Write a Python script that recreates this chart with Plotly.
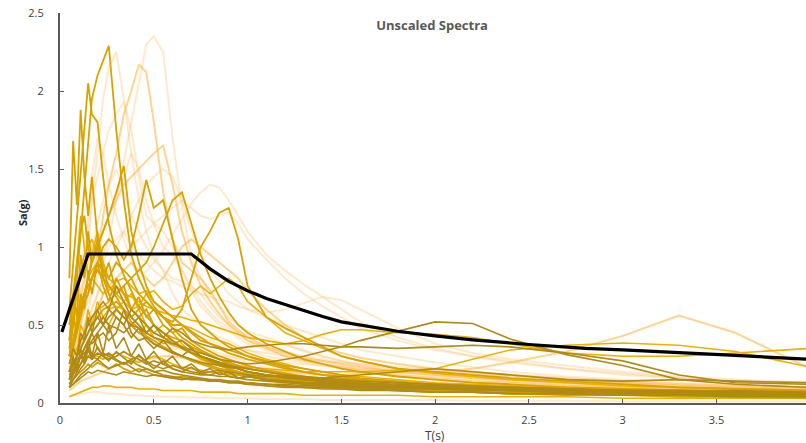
import plotly.graph_objects as go

# Common period grid (s)
T = [0.05, 0.07, 0.09, 0.11, 0.13, 0.15, 0.17, 0.2, 0.23, 0.26, 0.3,
     0.34, 0.38, 0.42, 0.46, 0.5, 0.55, 0.6, 0.65, 0.7, 0.75,
     0.8, 0.85, 0.9, 0.95, 1.0, 1.1, 1.2, 1.3, 1.4, 1.5,
     1.6, 1.8, 2.0, 2.2, 2.4, 2.7, 3.0, 3.3, 3.6, 4.0]

# Target spectrum
TARGET_T = [0.01, 0.15, 0.7, 0.8, 0.9, 1.0, 1.1, 1.2, 1.3, 1.4, 1.5, 1.6, 1.8,
            2.0, 2.2, 2.5, 2.8, 3.0, 3.3, 3.6, 4.0]
TARGET_SA = [0.455, 0.955, 0.955, 0.86, 0.78, 0.72, 0.67, 0.63, 0.59, 0.555, 0.52,
             0.5, 0.46, 0.43, 0.405, 0.375, 0.35, 0.34, 0.325, 0.305, 0.28]

# Very pale records
LIGHT = [
    [0.25, 0.3, 0.35, 0.45, 0.5, 0.6, 0.7, 0.85, 0.95, 1.05, 1.3,
     1.55, 1.8, 2.05, 2.3, 2.35, 2.25, 1.7, 1.25, 0.95, 0.8,
     0.7, 0.62, 0.55, 0.5, 0.46, 0.42, 0.38, 0.33, 0.3, 0.27,
     0.24, 0.2, 0.18, 0.16, 0.14, 0.12, 0.1, 0.09, 0.08, 0.07],
    [0.2, 0.3, 0.45, 0.6, 0.8, 1.0, 1.3, 1.6, 1.95, 2.15, 2.25,
     1.95, 1.6, 1.3, 1.1, 0.95, 0.85, 0.7, 0.6, 0.55, 0.5,
     0.46, 0.42, 0.4, 0.37, 0.34, 0.3, 0.28, 0.26, 0.24, 0.22,
     0.2, 0.17, 0.15, 0.13, 0.12, 0.11, 0.1, 0.09, 0.08, 0.07],
    [0.2, 0.3, 0.5, 0.7, 0.9, 1.1, 1.3, 1.45, 1.6, 1.75, 1.85,
     1.93, 1.75, 1.45, 1.2, 1.15, 1.1, 1.0, 0.85, 0.72, 0.62,
     0.56, 0.5, 0.46, 0.42, 0.38, 0.34, 0.31, 0.28, 0.26, 0.24,
     0.22, 0.19, 0.17, 0.15, 0.14, 0.12, 0.11, 0.1, 0.09, 0.08],
    [0.15, 0.2, 0.25, 0.3, 0.35, 0.4, 0.45, 0.5, 0.55, 0.6, 0.65,
     0.7, 0.75, 0.8, 0.85, 0.9, 0.98, 1.08, 1.18, 1.28, 1.35,
     1.4, 1.38, 1.3, 1.2, 1.1, 0.95, 0.85, 0.76, 0.68, 0.6,
     0.52, 0.42, 0.35, 0.3, 0.27, 0.22, 0.19, 0.16, 0.14, 0.12],
    [0.2, 0.25, 0.3, 0.4, 0.5, 0.55, 0.6, 0.7, 0.8, 0.85, 0.9,
     0.95, 1.0, 1.05, 1.1, 1.15, 1.2, 1.25, 1.3, 1.25, 1.2,
     1.18, 1.2, 1.22, 1.15, 1.05, 0.92, 0.8, 0.7, 0.62, 0.55,
     0.48, 0.4, 0.34, 0.3, 0.26, 0.22, 0.18, 0.16, 0.14, 0.12],
    [0.3, 0.35, 0.45, 0.5, 0.6, 0.65, 0.7, 0.8, 0.9, 1.0, 1.05,
     1.1, 1.0, 0.95, 0.9, 0.85, 0.8, 0.78, 0.75, 0.72, 0.7,
     0.68, 0.66, 0.65, 0.62, 0.6, 0.58, 0.6, 0.64, 0.68, 0.66,
     0.6, 0.48, 0.38, 0.32, 0.28, 0.24, 0.2, 0.17, 0.15, 0.13],
    [0.3, 0.4, 0.5, 0.65, 0.8, 0.9, 1.0, 1.15, 1.3, 1.4, 1.5,
     1.35, 1.2, 1.1, 1.0, 0.92, 0.85, 0.8, 0.78, 0.75, 0.7,
     0.62, 0.55, 0.5, 0.46, 0.43, 0.4, 0.37, 0.34, 0.3, 0.27,
     0.25, 0.22, 0.2, 0.19, 0.18, 0.16, 0.14, 0.12, 0.11, 0.1],
    [0.15, 0.2, 0.3, 0.35, 0.45, 0.5, 0.55, 0.6, 0.7, 0.75, 0.7,
     0.65, 0.6, 0.55, 0.6, 0.65, 0.6, 0.55, 0.5, 0.45, 0.42,
     0.4, 0.38, 0.36, 0.35, 0.34, 0.32, 0.3, 0.28, 0.27, 0.26,
     0.25, 0.23, 0.22, 0.2, 0.18, 0.16, 0.14, 0.12, 0.11, 0.1],
    [0.3, 0.45, 0.6, 0.8, 1.0, 1.2, 1.45, 1.7, 1.6, 1.4, 1.2,
     1.05, 0.9, 0.8, 0.72, 0.65, 0.58, 0.5, 0.45, 0.4, 0.37,
     0.34, 0.32, 0.3, 0.28, 0.26, 0.23, 0.2, 0.18, 0.16, 0.15,
     0.14, 0.12, 0.11, 0.1, 0.09, 0.08, 0.07, 0.06, 0.06, 0.05],
    [0.05, 0.05, 0.055, 0.06, 0.06, 0.065, 0.07, 0.07, 0.065, 0.06, 0.06,
     0.055, 0.05, 0.05, 0.045, 0.045, 0.04, 0.04, 0.04, 0.035, 0.035,
     0.035, 0.03, 0.03, 0.03, 0.03, 0.025, 0.025, 0.025, 0.02, 0.02,
     0.02, 0.02, 0.02, 0.015, 0.015, 0.015, 0.01, 0.01, 0.01, 0.01],
    [0.25, 0.3, 0.35, 0.4, 0.45, 0.5, 0.6, 0.7, 0.8, 0.9, 1.0,
     1.1, 1.2, 1.3, 1.4, 1.45, 1.5, 1.45, 1.3, 1.1, 0.95,
     0.85, 0.78, 0.7, 0.65, 0.6, 0.55, 0.5, 0.46, 0.42, 0.38,
     0.34, 0.3, 0.26, 0.23, 0.2, 0.17, 0.15, 0.13, 0.11, 0.1],
    [0.4, 0.5, 0.6, 0.7, 0.8, 0.9, 1.0, 1.05, 1.1, 1.2, 1.35,
     1.45, 1.6, 1.5, 1.3, 1.15, 1.0, 0.95, 0.85, 0.75, 0.65,
     0.58, 0.52, 0.48, 0.44, 0.4, 0.36, 0.33, 0.3, 0.28, 0.26,
     0.24, 0.22, 0.2, 0.18, 0.17, 0.15, 0.13, 0.12, 0.1, 0.09],
    [0.1, 0.15, 0.2, 0.25, 0.3, 0.35, 0.38, 0.4, 0.42, 0.45, 0.5,
     0.48, 0.45, 0.42, 0.4, 0.38, 0.36, 0.35, 0.34, 0.33, 0.32,
     0.31, 0.3, 0.3, 0.29, 0.28, 0.27, 0.26, 0.25, 0.24, 0.23,
     0.22, 0.21, 0.2, 0.19, 0.17, 0.15, 0.13, 0.12, 0.11, 0.1],
]

# Pale orange records
MID = [
    [0.2, 0.3, 0.4, 0.5, 0.6, 0.7, 0.8, 0.95, 1.2, 1.4, 1.6,
     1.85, 2.0, 2.17, 2.12, 1.8, 1.35, 1.05, 0.9, 0.85, 0.8,
     0.72, 0.62, 0.52, 0.47, 0.42, 0.36, 0.32, 0.29, 0.27, 0.25,
     0.23, 0.2, 0.18, 0.16, 0.15, 0.13, 0.12, 0.1, 0.09, 0.08],
    [0.3, 0.4, 0.5, 0.6, 0.7, 0.8, 0.9, 1.0, 1.1, 1.2, 1.3,
     1.4, 1.45, 1.5, 1.55, 1.6, 1.65, 1.4, 1.1, 0.9, 0.75,
     0.65, 0.57, 0.5, 0.45, 0.4, 0.35, 0.3, 0.27, 0.25, 0.23,
     0.21, 0.18, 0.16, 0.14, 0.13, 0.11, 0.1, 0.09, 0.08, 0.07],
    [0.2, 0.25, 0.3, 0.35, 0.45, 0.5, 0.55, 0.6, 0.7, 0.75, 0.8,
     0.85, 0.9, 0.85, 0.8, 0.75, 0.8, 0.9, 1.0, 1.05, 1.0,
     0.95, 0.9, 0.85, 0.8, 0.72, 0.6, 0.5, 0.42, 0.36, 0.32,
     0.29, 0.25, 0.22, 0.2, 0.18, 0.15, 0.13, 0.11, 0.1, 0.09],
    [0.08, 0.1, 0.12, 0.14, 0.15, 0.16, 0.17, 0.18, 0.2, 0.22, 0.24,
     0.25, 0.26, 0.27, 0.28, 0.29, 0.3, 0.3, 0.29, 0.28, 0.27,
     0.26, 0.25, 0.24, 0.23, 0.22, 0.21, 0.2, 0.19, 0.18, 0.18,
     0.19, 0.2, 0.2, 0.22, 0.26, 0.33, 0.43, 0.56, 0.45, 0.22],
]

# Bright gold records
BRIGHT = [
    [0.15, 0.2, 0.25, 0.3, 0.35, 0.4, 0.45, 0.5, 0.55, 0.6, 0.62,
     0.6, 0.55, 0.5, 0.45, 0.42, 0.4, 0.37, 0.35, 0.33, 0.3,
     0.28, 0.26, 0.25, 0.24, 0.23, 0.22, 0.21, 0.2, 0.2, 0.2,
     0.2, 0.21, 0.22, 0.28, 0.34, 0.37, 0.385, 0.37, 0.33, 0.23],
    [0.3, 0.4, 0.5, 0.6, 0.7, 0.8, 0.85, 0.9, 0.85, 0.8, 0.75,
     0.7, 0.68, 0.65, 0.62, 0.6, 0.58, 0.56, 0.55, 0.53, 0.52,
     0.5, 0.48, 0.46, 0.44, 0.42, 0.4, 0.38, 0.4, 0.44, 0.47,
     0.47, 0.45, 0.44, 0.42, 0.38, 0.32, 0.3, 0.3, 0.32, 0.35],
    [0.35, 0.5, 0.7, 0.85, 0.95, 1.0, 1.05, 0.95, 0.9, 0.8, 0.75,
     0.7, 0.6, 0.55, 0.5, 0.45, 0.42, 0.4, 0.35, 0.32, 0.3,
     0.28, 0.26, 0.24, 0.22, 0.2, 0.18, 0.16, 0.14, 0.13, 0.12,
     0.11, 0.1, 0.09, 0.08, 0.07, 0.06, 0.05, 0.05, 0.04, 0.04],
    [0.3, 0.4, 0.55, 0.65, 0.7, 0.75, 0.8, 0.75, 0.7, 0.72, 0.78,
     0.8, 0.75, 0.7, 0.72, 0.65, 0.6, 0.55, 0.5, 0.48, 0.45,
     0.42, 0.4, 0.38, 0.35, 0.32, 0.28, 0.25, 0.22, 0.2, 0.18,
     0.17, 0.15, 0.13, 0.12, 0.11, 0.1, 0.09, 0.08, 0.07, 0.06],
    [0.04, 0.05, 0.06, 0.07, 0.08, 0.09, 0.1, 0.1, 0.11, 0.11, 0.1,
     0.1, 0.1, 0.09, 0.09, 0.09, 0.08, 0.08, 0.08, 0.08, 0.07,
     0.07, 0.07, 0.07, 0.06, 0.06, 0.06, 0.06, 0.05, 0.05, 0.05,
     0.05, 0.05, 0.04, 0.04, 0.04, 0.04, 0.03, 0.03, 0.03, 0.03],
    [0.4, 0.6, 0.9, 1.2, 1.0, 0.8, 0.95, 1.1, 0.9, 0.7, 0.6,
     0.65, 0.7, 0.6, 0.5, 0.45, 0.5, 0.45, 0.38, 0.32, 0.28,
     0.26, 0.24, 0.22, 0.2, 0.19, 0.17, 0.15, 0.14, 0.13, 0.12,
     0.11, 0.1, 0.09, 0.08, 0.07, 0.06, 0.05, 0.05, 0.04, 0.04],
    [0.15, 0.2, 0.22, 0.25, 0.28, 0.3, 0.32, 0.3, 0.28, 0.3, 0.32,
     0.3, 0.28, 0.26, 0.28, 0.3, 0.28, 0.25, 0.23, 0.22, 0.21,
     0.2, 0.19, 0.18, 0.18, 0.17, 0.16, 0.15, 0.14, 0.13, 0.13,
     0.12, 0.11, 0.1, 0.09, 0.08, 0.07, 0.06, 0.06, 0.05, 0.05],
    [0.2, 0.3, 0.35, 0.4, 0.45, 0.5, 0.55, 0.6, 0.62, 0.65, 0.7,
     0.65, 0.6, 0.62, 0.7, 0.72, 0.65, 0.6, 0.62, 0.7, 0.75,
     0.7, 0.75, 0.8, 0.75, 0.65, 0.55, 0.45, 0.4, 0.35, 0.3,
     0.27, 0.22, 0.19, 0.17, 0.15, 0.13, 0.11, 0.1, 0.09, 0.08],
    [0.2, 0.35, 0.3, 0.5, 0.45, 0.6, 0.5, 0.65, 0.55, 0.5, 0.6,
     0.55, 0.5, 0.45, 0.5, 0.42, 0.38, 0.4, 0.35, 0.32, 0.3,
     0.28, 0.26, 0.25, 0.23, 0.22, 0.2, 0.18, 0.17, 0.16, 0.15,
     0.14, 0.13, 0.12, 0.11, 0.1, 0.09, 0.08, 0.07, 0.07, 0.06],
]

# Deep gold records
GOLD = [
    [0.3, 0.5, 0.8, 1.1, 1.4, 1.7, 1.95, 2.1, 2.2, 2.29, 1.75,
     1.3, 0.95, 0.8, 0.7, 0.62, 0.55, 0.48, 0.42, 0.38, 0.34,
     0.31, 0.28, 0.25, 0.22, 0.2, 0.18, 0.16, 0.15, 0.14, 0.13,
     0.12, 0.1, 0.09, 0.08, 0.07, 0.06, 0.05, 0.05, 0.04, 0.04],
    [0.6, 0.9, 1.2, 1.5, 1.8, 2.05, 1.85, 1.8, 1.45, 1.15, 0.95,
     0.82, 0.72, 0.62, 0.56, 0.5, 0.45, 0.4, 0.36, 0.32, 0.29,
     0.26, 0.24, 0.22, 0.2, 0.18, 0.16, 0.15, 0.13, 0.12, 0.11,
     0.1, 0.09, 0.08, 0.07, 0.06, 0.06, 0.05, 0.05, 0.04, 0.04],
    [0.8, 1.68, 1.27, 1.88, 1.45, 1.2, 1.45, 1.05, 0.85, 0.75, 0.68,
     0.6, 0.52, 0.48, 0.43, 0.4, 0.36, 0.33, 0.3, 0.27, 0.25,
     0.23, 0.21, 0.19, 0.18, 0.17, 0.15, 0.14, 0.12, 0.11, 0.1,
     0.09, 0.08, 0.07, 0.07, 0.06, 0.05, 0.05, 0.04, 0.04, 0.03],
    [0.3, 0.4, 0.5, 0.6, 0.65, 0.7, 0.8, 0.9, 1.0, 1.05, 1.0,
     0.92, 1.0, 1.2, 1.43, 1.25, 1.3, 1.05, 0.8, 0.6, 0.5,
     0.45, 0.4, 0.36, 0.33, 0.3, 0.27, 0.24, 0.22, 0.2, 0.18,
     0.16, 0.14, 0.12, 0.11, 0.1, 0.09, 0.08, 0.07, 0.06, 0.05],
    [0.2, 0.25, 0.3, 0.35, 0.4, 0.45, 0.5, 0.55, 0.6, 0.62, 0.65,
     0.6, 0.55, 0.6, 0.65, 0.6, 0.55, 0.52, 0.6, 0.8, 1.0,
     1.1, 1.22, 1.25, 1.05, 0.75, 0.55, 0.48, 0.42, 0.36, 0.3,
     0.27, 0.22, 0.2, 0.18, 0.16, 0.14, 0.12, 0.1, 0.09, 0.08],
    [0.3, 0.4, 0.5, 0.6, 0.7, 0.75, 0.8, 0.85, 0.8, 0.75, 0.7,
     0.75, 0.8, 0.85, 0.9, 1.0, 1.15, 1.3, 1.35, 1.15, 0.95,
     0.8, 0.68, 0.58, 0.5, 0.45, 0.38, 0.33, 0.28, 0.25, 0.22,
     0.2, 0.17, 0.15, 0.13, 0.12, 0.1, 0.09, 0.08, 0.07, 0.06],
    [0.25, 0.35, 0.45, 0.55, 0.65, 0.7, 0.8, 0.9, 0.85, 0.8, 0.9,
     0.85, 0.8, 0.7, 0.65, 0.6, 0.55, 0.5, 0.5, 0.45, 0.4,
     0.38, 0.36, 0.34, 0.32, 0.3, 0.26, 0.23, 0.2, 0.18, 0.16,
     0.15, 0.13, 0.12, 0.11, 0.1, 0.09, 0.08, 0.07, 0.06, 0.06],
    [0.12, 0.15, 0.18, 0.2, 0.22, 0.25, 0.23, 0.26, 0.24, 0.22, 0.25,
     0.22, 0.2, 0.22, 0.2, 0.18, 0.17, 0.16, 0.17, 0.16, 0.15,
     0.15, 0.14, 0.14, 0.13, 0.12, 0.12, 0.11, 0.1, 0.1, 0.1,
     0.09, 0.09, 0.08, 0.08, 0.07, 0.07, 0.06, 0.06, 0.06, 0.05],
    [0.3, 0.4, 0.5, 0.6, 0.7, 0.8, 0.9, 1.0, 1.1, 1.2, 1.35,
     1.52, 1.1, 0.9, 0.75, 0.65, 0.6, 0.55, 0.5, 0.46, 0.42,
     0.38, 0.35, 0.32, 0.3, 0.28, 0.25, 0.22, 0.2, 0.18, 0.17,
     0.15, 0.13, 0.12, 0.11, 0.1, 0.09, 0.08, 0.07, 0.06, 0.05],
    [0.5, 0.7, 0.9, 1.1, 1.2, 1.0, 0.9, 1.05, 0.8, 0.7, 0.6,
     0.55, 0.5, 0.45, 0.42, 0.38, 0.35, 0.32, 0.3, 0.28, 0.26,
     0.24, 0.22, 0.21, 0.2, 0.18, 0.16, 0.15, 0.14, 0.13, 0.12,
     0.11, 0.1, 0.09, 0.08, 0.07, 0.06, 0.06, 0.05, 0.05, 0.04],
    [0.35, 0.55, 0.45, 0.7, 0.6, 0.85, 0.7, 0.9, 0.75, 0.65, 0.8,
     0.7, 0.6, 0.68, 0.55, 0.6, 0.5, 0.45, 0.48, 0.4, 0.36,
     0.33, 0.3, 0.28, 0.26, 0.24, 0.21, 0.19, 0.17, 0.15, 0.14,
     0.13, 0.11, 0.1, 0.09, 0.08, 0.07, 0.06, 0.06, 0.05, 0.05],
    [0.4, 0.7, 0.55, 0.95, 0.8, 1.1, 0.9, 1.0, 0.8, 0.9, 0.7,
     0.75, 0.6, 0.55, 0.6, 0.5, 0.45, 0.42, 0.4, 0.36, 0.33,
     0.3, 0.28, 0.26, 0.24, 0.22, 0.2, 0.18, 0.16, 0.15, 0.14,
     0.13, 0.11, 0.1, 0.09, 0.08, 0.07, 0.06, 0.06, 0.05, 0.05],
]

# Olive / dark gold records
DARK = [
    [0.1, 0.15, 0.2, 0.25, 0.3, 0.35, 0.4, 0.45, 0.5, 0.55, 0.6,
     0.55, 0.5, 0.48, 0.45, 0.42, 0.4, 0.38, 0.36, 0.34, 0.32,
     0.3, 0.28, 0.27, 0.26, 0.25, 0.26, 0.28, 0.3, 0.33, 0.36,
     0.4, 0.46, 0.52, 0.51, 0.41, 0.31, 0.24, 0.15, 0.12, 0.1],
    [0.15, 0.2, 0.25, 0.3, 0.35, 0.4, 0.38, 0.42, 0.45, 0.4, 0.45,
     0.6, 0.45, 0.4, 0.42, 0.38, 0.35, 0.32, 0.3, 0.28, 0.26,
     0.25, 0.24, 0.23, 0.22, 0.2, 0.18, 0.17, 0.16, 0.15, 0.14,
     0.13, 0.12, 0.11, 0.1, 0.1, 0.09, 0.08, 0.08, 0.07, 0.07],
    [0.12, 0.18, 0.22, 0.25, 0.3, 0.38, 0.45, 0.35, 0.3, 0.32, 0.28,
     0.25, 0.27, 0.24, 0.22, 0.2, 0.21, 0.19, 0.18, 0.17, 0.16,
     0.15, 0.15, 0.14, 0.14, 0.13, 0.12, 0.11, 0.1, 0.1, 0.09,
     0.09, 0.08, 0.07, 0.07, 0.06, 0.06, 0.05, 0.05, 0.04, 0.04],
    [0.2, 0.25, 0.3, 0.35, 0.4, 0.45, 0.5, 0.55, 0.5, 0.6, 0.55,
     0.5, 0.6, 0.55, 0.45, 0.5, 0.42, 0.38, 0.4, 0.35, 0.3,
     0.28, 0.26, 0.24, 0.23, 0.22, 0.2, 0.18, 0.17, 0.16, 0.15,
     0.14, 0.13, 0.12, 0.11, 0.1, 0.09, 0.08, 0.07, 0.07, 0.06],
    [0.1, 0.12, 0.15, 0.18, 0.2, 0.22, 0.25, 0.28, 0.25, 0.22, 0.24,
     0.26, 0.23, 0.2, 0.22, 0.2, 0.18, 0.17, 0.16, 0.15, 0.15,
     0.14, 0.14, 0.13, 0.13, 0.12, 0.11, 0.1, 0.1, 0.09, 0.09,
     0.08, 0.08, 0.07, 0.07, 0.06, 0.06, 0.05, 0.05, 0.05, 0.04],
    [0.18, 0.22, 0.28, 0.3, 0.32, 0.35, 0.3, 0.28, 0.32, 0.3, 0.27,
     0.25, 0.28, 0.3, 0.27, 0.24, 0.22, 0.24, 0.22, 0.2, 0.19,
     0.2, 0.21, 0.2, 0.19, 0.18, 0.17, 0.17, 0.16, 0.16, 0.17,
     0.18, 0.2, 0.22, 0.2, 0.18, 0.15, 0.14, 0.15, 0.14, 0.13],
    [0.15, 0.2, 0.25, 0.3, 0.35, 0.4, 0.45, 0.5, 0.55, 0.5, 0.48,
     0.45, 0.5, 0.55, 0.5, 0.45, 0.42, 0.48, 0.45, 0.4, 0.38,
     0.36, 0.35, 0.34, 0.35, 0.36, 0.37, 0.38, 0.38, 0.37, 0.36,
     0.36, 0.35, 0.36, 0.37, 0.36, 0.32, 0.27, 0.18, 0.13, 0.12],
    [0.1, 0.15, 0.18, 0.22, 0.25, 0.3, 0.28, 0.32, 0.3, 0.28, 0.3,
     0.33, 0.3, 0.28, 0.25, 0.27, 0.25, 0.22, 0.2, 0.19, 0.18,
     0.18, 0.17, 0.17, 0.16, 0.15, 0.14, 0.13, 0.12, 0.12, 0.11,
     0.1, 0.1, 0.09, 0.09, 0.08, 0.08, 0.07, 0.07, 0.06, 0.06],
    [0.1, 0.12, 0.14, 0.16, 0.18, 0.2, 0.19, 0.21, 0.2, 0.19, 0.18,
     0.2, 0.19, 0.18, 0.17, 0.18, 0.17, 0.16, 0.15, 0.16, 0.15,
     0.14, 0.14, 0.13, 0.13, 0.13, 0.12, 0.12, 0.11, 0.11, 0.1,
     0.1, 0.1, 0.1, 0.09, 0.09, 0.09, 0.08, 0.08, 0.08, 0.07],
    [0.2, 0.25, 0.3, 0.4, 0.45, 0.5, 0.55, 0.6, 0.65, 0.6, 0.75,
     0.65, 0.55, 0.5, 0.45, 0.5, 0.45, 0.4, 0.35, 0.32, 0.3,
     0.28, 0.26, 0.24, 0.22, 0.2, 0.18, 0.16, 0.15, 0.14, 0.13,
     0.12, 0.11, 0.1, 0.09, 0.08, 0.07, 0.06, 0.06, 0.05, 0.05],
    [0.15, 0.3, 0.2, 0.35, 0.25, 0.4, 0.3, 0.45, 0.32, 0.5, 0.35,
     0.42, 0.3, 0.38, 0.28, 0.33, 0.25, 0.3, 0.22, 0.25, 0.2,
     0.22, 0.18, 0.2, 0.16, 0.17, 0.15, 0.14, 0.13, 0.12, 0.11,
     0.1, 0.09, 0.09, 0.08, 0.08, 0.07, 0.07, 0.06, 0.06, 0.05],
    [0.2, 0.28, 0.22, 0.3, 0.26, 0.34, 0.28, 0.36, 0.3, 0.27, 0.33,
     0.29, 0.25, 0.31, 0.26, 0.22, 0.27, 0.22, 0.2, 0.23, 0.19,
     0.18, 0.2, 0.17, 0.16, 0.17, 0.15, 0.14, 0.13, 0.13, 0.12,
     0.11, 0.1, 0.1, 0.09, 0.09, 0.08, 0.08, 0.07, 0.07, 0.06],
    [0.25, 0.35, 0.3, 0.45, 0.4, 0.55, 0.45, 0.6, 0.5, 0.45, 0.55,
     0.5, 0.42, 0.48, 0.4, 0.35, 0.4, 0.33, 0.3, 0.35, 0.3,
     0.27, 0.25, 0.23, 0.22, 0.2, 0.18, 0.17, 0.15, 0.14, 0.13,
     0.12, 0.11, 0.1, 0.09, 0.08, 0.08, 0.07, 0.06, 0.06, 0.05],
]

GROUP_STYLE = [
    (LIGHT, "rgba(255,196,120,0.38)", 2.0),
    (MID, "rgba(255,183,70,0.6)", 2.0),
    (BRIGHT, "#EDB000", 1.6),
    (GOLD, "#D6A300", 1.8),
    (DARK, "#B08A14", 1.6),
]

fig = go.Figure()
for series_list, color, width in GROUP_STYLE:
    for ys in series_list:
        fig.add_trace(go.Scatter(x=T, y=ys, mode="lines",
                                 line=dict(color=color, width=width),
                                 hoverinfo="skip", showlegend=False))

fig.add_trace(go.Scatter(x=TARGET_T, y=TARGET_SA, mode="lines",
                         line=dict(color="#000000", width=3.2),
                         hoverinfo="skip", showlegend=False))

axis_color = "#595959"
fig.update_layout(
    width=806, height=443,
    margin=dict(l=60, r=0, t=13, b=40),
    paper_bgcolor="white", plot_bgcolor="white",
    font=dict(family="Open Sans, sans-serif", size=11, color="#404040"),
    title=dict(text="<b>Unscaled Spectra</b>", x=0.536, xanchor="center",
               y=1 - 25 / 443, yanchor="middle", yref="container",
               font=dict(size=13, color="#595959", family="Open Sans, sans-serif")),
    xaxis=dict(range=[0, 3.977], tickmode="array",
               tickvals=[0, 0.5, 1, 1.5, 2, 2.5, 3, 3.5],
               ticktext=["0", "0.5", "1", "1.5", "2", "2.5", "3", "3.5"],
               showline=True, linecolor=axis_color, linewidth=2,
               ticks="inside", ticklen=4, tickcolor=axis_color, tickwidth=1,
               showgrid=False, zeroline=False, ticklabelstandoff=6),
    yaxis=dict(range=[0, 2.5], tickmode="array",
               tickvals=[0, 0.5, 1, 1.5, 2, 2.5],
               ticktext=["0", "0.5", "1", "1.5", "2", "2.5"],
               showline=True, linecolor=axis_color, linewidth=2,
               ticks="inside", ticklen=4, tickcolor=axis_color, tickwidth=1,
               showgrid=False, zeroline=False, ticklabelstandoff=12),
    annotations=[
        dict(text="T(s)", xref="paper", yref="paper", x=0.0, y=0,
             xshift=-60 + 435, yshift=-32, showarrow=False,
             xanchor="center", yanchor="middle",
             font=dict(size=12, color="#404040")),
        dict(text="<b>Sa(g)</b>", xref="paper", yref="paper", x=0, y=0,
             xshift=-38, yshift=403 - 213, showarrow=False, textangle=-90,
             xanchor="center", yanchor="middle",
             font=dict(size=11, color="#262626")),
    ],
)

fig.write_html("out.html")
